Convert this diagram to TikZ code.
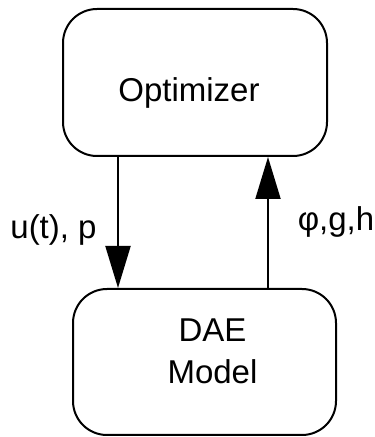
\documentclass[tikz,border=0pt]{standalone}
\usepackage{fontspec}
\setmainfont{Liberation Sans}
\usetikzlibrary{arrows.meta}

\begin{document}
\begin{tikzpicture}[x=1pt,y=1pt,
  box/.style={draw,line width=2pt,rounded corners=34pt,inner sep=0pt},
  txt/.style={font=\fontsize{33}{42}\selectfont,inner sep=0pt,align=center},
  ar/.style={-{Triangle[length=42pt,width=25pt]},line width=2pt}]
\useasboundingbox (0,0) rectangle (375,437);
\node[box,minimum width=264pt,minimum height=147pt] (opt) at (195,354.5) {};
\node[box,minimum width=263pt,minimum height=146pt] (dae) at (204.5,75) {};
\node[txt,anchor=base] (opttxt) at (189,335) {Optimizer};
\node[txt] (daetxt) at (212.5,86) {DAE\\Model};
\draw[ar] ([xshift=-77pt]opt.south) -- ([xshift=-77pt]opt.south |- dae.north);
\draw[ar] ([xshift=73pt]opt.south |- dae.north) -- ([xshift=73pt]opt.south);
\node[txt] (ulab) at (53.5,207) {u(t), p};
\node[txt] (flab) at (336,215) {φ,g,h};
\end{tikzpicture}
\end{document}
